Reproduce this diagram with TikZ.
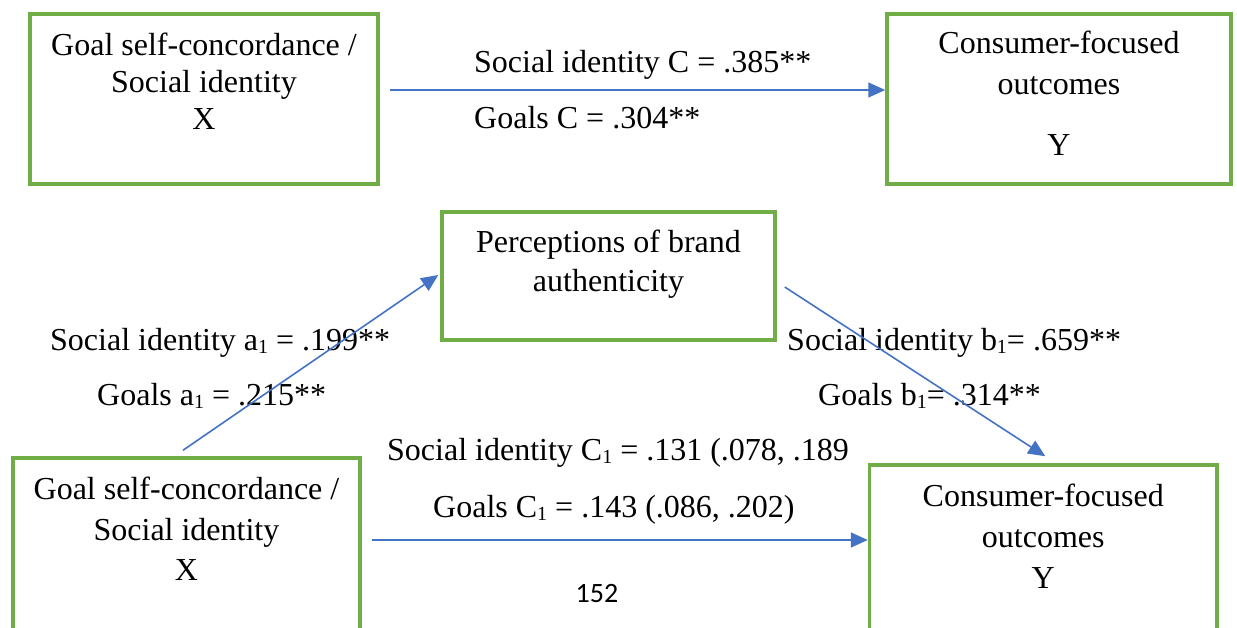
\documentclass[tikz,border=0pt]{standalone}
\usepackage{fontspec}
\setmainfont{Liberation Serif}
\newfontfamily\pagenumfont{Carlito}
\usepackage{xcolor}
\usetikzlibrary{arrows.meta}
\usetikzlibrary{positioning}

\definecolor{boxgreen}{RGB}{112,173,71}
\definecolor{linkblue}{RGB}{68,114,196}

% small lowered index, as in a_1
\newcommand{\idx}[1]{\raisebox{-0.12em}{\fontsize{20}{20}\selectfont #1}}

\begin{document}
\begin{tikzpicture}
        [x=1pt,y=-1pt,
        block/.style={rectangle,draw=boxgreen,line width=3.5pt,inner sep=0pt},
        blocktext/.style={inner sep=0pt,align=center,font=\fontsize{32}{37}\selectfont},
        coef/.style={inner sep=0pt,anchor=base west,font=\fontsize{32}{37}\selectfont},
        link/.style={-{Triangle[length=17pt,width=15pt]},color=linkblue,line width=1.6pt}]

\clip (0,0) rectangle (1237,627);

% boxes
\node[block,minimum width=348pt,minimum height=170pt] at (204,99) (topx) {};
\node[block,minimum width=344pt,minimum height=170pt] at (1059,99) (topy) {};
\node[block,minimum width=333pt,minimum height=128pt] at (608.5,276) (brand) {};
\node[block,minimum width=347pt,minimum height=202pt] at (186.5,559) (botx) {};
\node[block,minimum width=347.5pt,minimum height=195pt] at (1043.25,562.5) (boty) {};

% box texts
\node[blocktext,below=20.5pt of topx.north] (topxtext) {Goal self-concordance /\\Social identity\\X};
\node[blocktext,below=18.5pt of topy.north,font=\fontsize{32}{41}\selectfont] (topytext) {Consumer-focused\\outcomes\\[20pt]Y};
\node[blocktext,below=19.5pt of brand.north,font=\fontsize{32}{39}\selectfont] (brandtext) {Perceptions of brand\\authenticity};
\node[blocktext,below=21pt of botx.north,font=\fontsize{32}{40.5}\selectfont] (botxtext) {Goal self-concordance /\\Social identity\\X};
\node[blocktext,below=20.5pt of boty.north,font=\fontsize{32}{41}\selectfont] (botytext) {Consumer-focused\\outcomes\\Y};

% coefficients
\node[coef] at (474,72) (totalsi) {Social identity C = .385**};
\node[coef] at (474,128) (totalgo) {Goals C = .304**};
\node[coef] at (50,350) (asi) {Social identity a\idx{1} = .199**};
\node[coef] at (97,405) (ago) {Goals a\idx{1} = .215**};
\node[coef] at (787,350) (bsi) {Social identity b\idx{1}= .659**};
\node[coef] at (818,405) (bgo) {Goals b\idx{1}= .314**};
\node[coef] at (387,460) (directsi) {Social identity C\idx{1} = .131 (.078, .189};
\node[coef] at (433,517) (directgo) {Goals C\idx{1} = .143 (.086, .202)};

\node[inner sep=0pt,anchor=base,font=\pagenumfont\fontsize{28}{32}\selectfont] at (597,602) (pagenum) {152};

% arrows
\draw[link] ([xshift=10pt,yshift=9pt]topx.east) coordinate (tstart) -- (tstart -| topy.west);
\draw[link] ([xshift=-3.5pt,yshift=6pt]botx.north) -- ([xshift=-2pt,yshift=1pt]brand.west);
\draw[link] ([xshift=8pt,yshift=-11pt]brand.east) -- ([xshift=2pt,yshift=7pt]boty.north);
\draw[link] ([xshift=10pt,yshift=19pt]botx.east) coordinate (bstart) -- (bstart -| boty.west);

\end{tikzpicture}
\end{document}
